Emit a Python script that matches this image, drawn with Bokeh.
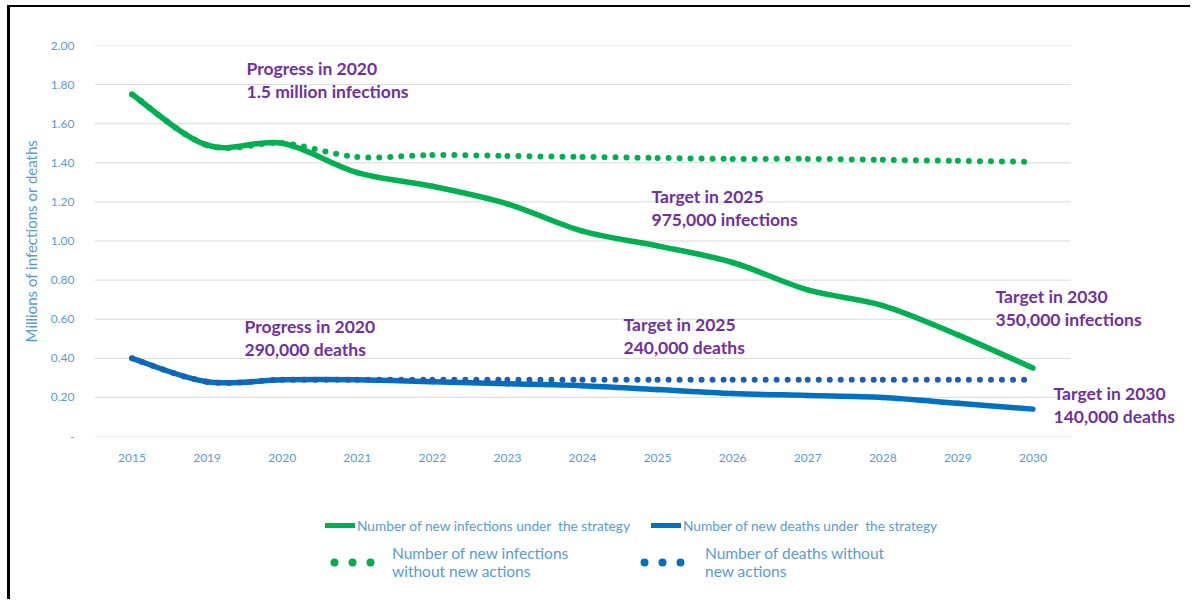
import numpy as np
from bokeh.plotting import figure
from bokeh.layouts import column
from bokeh.models import (Range1d, FixedTicker, CustomJSTickFormatter, Label,
                          Legend, LegendItem)
from bokeh.embed import file_html
from bokeh.resources import INLINE

# ---------------- data ----------------
years = ["2015", "2019", "2020", "2021", "2022", "2023", "2024",
         "2025", "2026", "2027", "2028", "2029", "2030"]
infections_strategy = [1.75, 1.49, 1.50, 1.35, 1.28, 1.19, 1.05,
                       0.975, 0.89, 0.75, 0.67, 0.52, 0.35]
infections_no_action = [1.75, 1.49, 1.50, 1.43, 1.44, 1.435, 1.43,
                        1.425, 1.42, 1.42, 1.415, 1.41, 1.405]
deaths_strategy = [0.40, 0.28, 0.29, 0.29, 0.28, 0.27, 0.26,
                   0.24, 0.22, 0.21, 0.20, 0.17, 0.14]
deaths_no_action = [0.40, 0.28, 0.29, 0.29, 0.29, 0.29, 0.29,
                    0.29, 0.29, 0.29, 0.29, 0.29, 0.29]
y_ticks = [0.0, 0.2, 0.4, 0.6, 0.8, 1.0, 1.2, 1.4, 1.6, 1.8, 2.0]
y_axis_title = "Millions of infections or deaths"
legend_labels = ["Number of new infections under  the strategy",
                 "Number of new deaths under  the strategy",
                 "Number of new infections\nwithout new actions",
                 "Number of deaths without\nnew actions"]
annotation_texts = [
    ["Progress in 2020", "1.5 million infections"],
    ["Target  in 2025", "975,000 infections"],
    ["Target  in 2030", "350,000 infections"],
    ["Progress in 2020", "290,000 deaths"],
    ["Target in 2025", "240,000 deaths"],
    ["Target in 2030", "140,000 deaths"],
]

# ---------------- styling ----------------
GREEN = "#00b050"
BLUE = "#0070c0"
BLUE_DOT = "#1f5fb0"
PURPLE = "#7030a0"
AXIS_TXT = "#5b9bd5"
GRID = "#d9d9d9"
FONT = "Lato"

# page geometry (picture px)
OX, OY = 7, 5          # outer margin of the framed block
BL, BT = 3, 2          # border widths
CX, CY = OX + BL, OY + BT   # content origin
FL, FT, FH = 94, 45, 391    # plot frame left/top/height
UX = 976 / len(years)       # px per category
W = 1180
H1 = 464
H2 = 128

n = len(years)
frame_w = W - (FL - CX)
x_end = -0.5 + frame_w / UX

p = figure(width=W, height=H1, output_backend="svg", toolbar_location=None,
           x_range=Range1d(-0.5, x_end), y_range=Range1d(0, 2.0),
           min_border_left=FL - CX, min_border_top=FT - CY,
           min_border_right=0, min_border_bottom=H1 - (FT - CY) - FH)
p.outline_line_color = None
p.background_fill_color = "white"
p.border_fill_color = "white"
p.grid.grid_line_color = None

p.yaxis.ticker = FixedTicker(ticks=y_ticks)
p.yaxis.formatter = CustomJSTickFormatter(code="return tick < 1e-9 ? '-' : tick.toFixed(2);")
p.xaxis.ticker = FixedTicker(ticks=list(range(n)))
p.xaxis.formatter = CustomJSTickFormatter(args=dict(years=years),
                                          code="return years[Math.round(tick)] || '';")
for ax in (p.xaxis, p.yaxis):
    ax.axis_line_color = None
    ax.major_tick_line_color = None
    ax.minor_tick_line_color = None
    ax.major_label_text_color = AXIS_TXT
    ax.major_label_text_font = FONT
    ax.major_label_text_font_size = "12px"
p.yaxis.major_label_standoff = 14
p.xaxis.major_label_standoff = 11
p.yaxis.axis_label = y_axis_title
p.yaxis.axis_label_text_color = AXIS_TXT
p.yaxis.axis_label_text_font = FONT
p.yaxis.axis_label_text_font_style = "normal"
p.yaxis.axis_label_text_font_size = "15px"
p.yaxis.axis_label_standoff = 8

# horizontal grid lines across the category span only
p.segment(x0=[-0.5] * len(y_ticks), x1=[n - 0.5] * len(y_ticks),
          y0=y_ticks, y1=y_ticks, line_color=GRID, line_width=1)

x = np.arange(n, dtype=float)


def bezier_parts(y):
    y = np.asarray(y, dtype=float)
    xp = np.concatenate([[x[0]], x, [x[-1]]])
    yp = np.concatenate([[y[0]], y, [y[-1]]])
    i = np.arange(len(y) - 1)
    return dict(
        x0=x[:-1], y0=y[:-1], x1=x[1:], y1=y[1:],
        cx0=x[:-1] + (xp[i + 2] - xp[i]) / 6.0,
        cy0=y[:-1] + (yp[i + 2] - yp[i]) / 6.0,
        cx1=x[1:] - (xp[i + 3] - xp[i + 1]) / 6.0,
        cy1=y[1:] - (yp[i + 3] - yp[i + 1]) / 6.0,
    )


p.bezier(**bezier_parts(infections_strategy), line_color=GREEN, line_width=5.5, line_cap="round")
p.bezier(**bezier_parts(deaths_strategy), line_color=BLUE, line_width=5.5, line_cap="round")
p.bezier(**bezier_parts(infections_no_action), line_color=GREEN, line_width=6,
         line_cap="round", line_dash="0 11")
p.bezier(**bezier_parts(deaths_no_action), line_color=BLUE_DOT, line_width=6,
         line_cap="round", line_dash="0 11")

# ---------------- annotations ----------------
UY = FH / 2.0
ann_pos = [(246, 68), (651, 196), (995, 296), (244, 326), (623, 324), (1053, 393)]
line_gap = 22.5
for (px, py), lines in zip(ann_pos, annotation_texts):
    for k, t in enumerate(lines):
        p.add_layout(Label(x=(px - FL) / UX - 0.5, y=(FT + FH - (py + k * line_gap)) / UY,
                           text=t, text_font=FONT, text_font_style="bold",
                           text_font_size="17.5px", text_color=PURPLE,
                           text_align="left", text_baseline="middle"))

# ---------------- legend (separate strip below, frame aligned with the chart) ----------------
p2 = figure(width=W, height=H2, output_backend="svg", toolbar_location=None,
            x_range=Range1d(0, 1), y_range=Range1d(0, 1),
            x_axis_location=None, y_axis_location=None,
            min_border_left=0, min_border_right=0, min_border_top=0, min_border_bottom=0)
p2.outline_line_color = None
p2.grid.visible = False
p2.background_fill_color = "white"
p2.border_fill_color = "white"

# legend proxies (a single NaN point draws nothing on the plot)
nan = [float("nan")]
leg_g = p2.line(x=nan, y=nan, line_color=GREEN, line_width=5, line_cap="round")
leg_b = p2.line(x=nan, y=nan, line_color=BLUE, line_width=5, line_cap="round")
leg_gd = p2.line(x=nan, y=nan, line_color=GREEN, line_width=8, line_cap="round",
                 line_dash="0 18", line_dash_offset=-5)
leg_bd = p2.line(x=nan, y=nan, line_color=BLUE, line_width=8, line_cap="round",
                 line_dash="0 18", line_dash_offset=-5)

bottom2 = CY + H1 + H2
leg_specs = [
    (leg_g, legend_labels[0], 325, 525, 30, 2, "13.7px", 20),
    (leg_b, legend_labels[1], 651, 525, 30, 2, "13.7px", 20),
    (leg_gd, legend_labels[2], 329, 562, 46, 17, "15.5px", 44),
    (leg_bd, legend_labels[3], 639, 562, 46, 20, "15.5px", 44),
]
for r, lab, gx, cy, gw, so, fs, ih in leg_specs:
    lg = Legend(items=[LegendItem(label=lab, renderers=[r])],
                location=(gx - FL, bottom2 - (cy + ih / 2)),
                border_line_color=None, background_fill_alpha=0,
                padding=0, margin=0, spacing=0,
                glyph_width=gw, glyph_height=ih, label_height=ih,
                label_standoff=so, label_text_font=FONT,
                label_text_font_size=fs, label_text_color=AXIS_TXT,
                label_text_line_height=1.3)
    p2.add_layout(lg, "center")

layout = column(p, p2, spacing=0)
layout.styles = {"margin-left": f"{OX}px", "margin-top": f"{OY}px",
                 "border-left": f"{BL}px solid black", "border-top": f"{BT}px solid black"}

open("out.html", "w").write(file_html(layout, INLINE))
